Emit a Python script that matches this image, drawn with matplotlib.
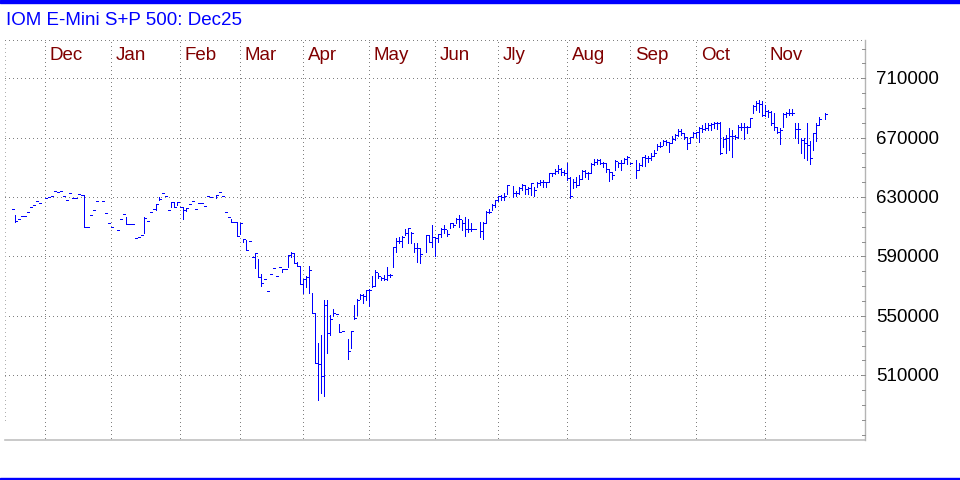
import numpy as np
import pandas as pd
import matplotlib
matplotlib.use("Agg")
import matplotlib.pyplot as plt
from matplotlib.patches import Rectangle

plt.rcParams['font.family'] = ['Liberation Sans', 'DejaVu Sans']

title = "IOM E-Mini S+P 500: Dec25"
# one slot per weekday, holidays left empty (None)
dates = pd.bdate_range("2024-11-14", "2025-11-28")
month_names = ["Jan", "Feb", "Mar", "Apr", "May", "Jun",
               "Jly", "Aug", "Sep", "Oct", "Nov", "Dec"]
yticks = [510000, 550000, 590000, 630000, 670000, 710000]

# prices in index points (chart shows them x100)
high = [
    6218, 6180, 6150, 6173, 6173, 6202, 6231, 6247, 6276, 6258,
    None, 6292, 6298, 6307, 6339, 6332, 6339, 6307, 6280, 6325,
    6292, 6292, 6321, 6314, 6314, 6101, 6179, 6213, 6271, None,
    6271, 6191, 6123, 6096, None, 6076, 6150, 6184, 6164, 6119,
    6119, 6022, 6031, 6043, 6164, 6139, 6197, 6220, 6251, 6303,
    6325, 6307, 6213, 6265, 6265, 6265, 6231, 6231, 6229, 6251,
    6274, 6218, 6258, 6258, 6240, 6307, 6298, None, 6312, 6334,
    6307, 6197, 6164, 6152, 6130, 6130, 6123, 6016, 6011, 6002,
    5897, 5921, 5881, 5782, 5746, 5668, 5782, 5825, 5769, 5827,
    5814, 5814, 5910, 5928, 5926, 5865, 5836, 5746, 5769, 5836,
    5656, 5517, 5315, 5371, 5607, 5607, 5506, 5546, 5511, 5445,
    5398, None, 5342, 5401, 5573, 5614, 5645, 5647, 5674, 5679,
    5769, 5809, 5787, 5764, 5776, 5827, 5782, 5962, 6022, 6029,
    6038, 6083, 6090, 6067, 5989, 5989, 5955, None, 6045, 6045,
    6112, 6034, 6052, 6090, 6112, 6079, 6128, 6128, 6157, 6180,
    6146, 6164, 6150, 6123, 6083, None, 6135, 6135, 6209, 6218,
    6256, 6283, 6310, 6314, 6325, 6382, None, 6375, 6342, 6370,
    6388, 6382, 6370, 6395, 6368, 6404, 6415, 6415, 6404, 6465,
    6465, 6487, 6516, 6494, 6483, 6527, 6433, 6420, 6433, 6449,
    6483, 6483, 6471, 6527, 6554, 6554, 6554, 6539, 6532, 6487,
    6471, 6550, 6539, 6550, 6561, 6577, 6532, None, 6550, 6532,
    6570, 6586, 6578, 6600, 6617, 6656, 6670, 6685, 6682, 6673,
    6712, 6727, 6756, 6756, 6729, 6702, 6702, 6741, 6741, 6774,
    6786, 6797, 6797, 6801, 6808, 6808, 6808, 6702, 6718, 6763,
    6752, 6718, 6786, 6797, 6797, 6779, 6830, 6920, 6947, 6954,
    6949, 6920, 6887, 6882, 6864, 6770, 6763, 6864, 6875, 6891,
    6891, 6797, 6797, 6700, 6700, 6797, 6675, 6732, 6797, 6842,
    None, 6864,
]
low = [
    6218, 6135, 6150, 6173, 6173, 6202, 6231, 6247, 6276, 6258,
    None, 6292, 6298, 6307, 6339, 6332, 6339, 6307, 6280, 6325,
    6292, 6292, 6321, 6314, 6101, 6101, 6179, 6213, 6271, None,
    6271, 6191, 6123, 6096, None, 6076, 6150, 6184, 6119, 6119,
    6119, 6022, 6031, 6043, 6056, 6139, 6197, 6220, 6213, 6280,
    6325, 6307, 6213, 6231, 6231, 6247, 6231, 6150, 6209, 6251,
    6274, 6218, 6258, 6258, 6240, 6307, 6298, None, 6294, 6334,
    6307, 6197, 6164, 6130, 6130, 6038, 6049, 6000, 5944, 6002,
    5897, 5820, 5760, 5701, 5746, 5668, 5782, 5825, 5769, 5827,
    5798, 5814, 5832, 5899, 5854, 5836, 5715, 5656, 5692, 5656,
    5517, 5181, 4934, 4979, 4961, 5248, 5371, 5499, 5511, 5389,
    5398, None, 5212, 5286, 5479, 5506, 5612, 5589, 5607, 5567,
    5697, 5701, 5753, 5742, 5742, 5742, 5764, 5827, 5933, 5993,
    5966, 6045, 5993, 5989, 5933, 5865, 5859, None, 5933, 6000,
    5966, 5903, 6000, 6029, 6061, 6038, 6090, 6097, 6123, 6101,
    6079, 6038, 6067, 6074, 6083, None, 6029, 6016, 6128, 6191,
    6214, 6234, 6275, 6281, 6282, 6318, None, 6303, 6310, 6318,
    6350, 6321, 6321, 6314, 6306, 6365, 6382, 6370, 6370, 6404,
    6442, 6456, 6460, 6449, 6449, 6415, 6292, 6359, 6370, 6382,
    6420, 6438, 6420, 6460, 6516, 6523, 6523, 6505, 6471, 6411,
    6420, 6483, 6505, 6483, 6527, 6523, 6523, None, 6426, 6483,
    6507, 6512, 6535, 6547, 6576, 6615, 6637, 6651, 6654, 6606,
    6667, 6682, 6710, 6718, 6689, 6622, 6667, 6702, 6702, 6673,
    6741, 6752, 6752, 6752, 6763, 6756, 6590, 6640, 6595, 6617,
    6568, 6689, 6696, 6752, 6689, 6734, 6774, 6864, 6887, 6875,
    6846, 6846, 6842, 6786, 6752, 6729, 6658, 6774, 6842, 6853,
    6853, 6696, 6662, 6595, 6561, 6550, 6523, 6617, 6680, 6785,
    None, 6824,
]
close = [
    6218, 6139, 6150, 6173, 6173, 6202, 6231, 6247, 6276, 6258,
    None, 6292, 6298, 6307, 6339, 6332, 6339, 6307, 6280, 6325,
    6292, 6292, 6321, 6314, 6101, 6101, 6179, 6213, 6271, None,
    6271, 6191, 6123, 6096, None, 6076, 6150, 6184, 6119, 6119,
    6119, 6022, 6031, 6043, 6157, 6139, 6197, 6220, 6251, 6285,
    6325, 6307, 6213, 6265, 6231, 6265, 6231, 6213, 6229, 6251,
    6274, 6218, 6258, 6258, 6240, 6307, 6298, None, 6312, 6334,
    6307, 6197, 6164, 6130, 6130, 6038, 6123, 6016, 5944, 6002,
    5897, 5921, 5760, 5719, 5746, 5668, 5782, 5825, 5769, 5827,
    5814, 5814, 5910, 5926, 5858, 5836, 5715, 5746, 5764, 5809,
    5517, 5185, 5176, 5098, 5573, 5383, 5479, 5522, 5511, 5389,
    5398, None, 5264, 5398, 5484, 5607, 5641, 5634, 5674, 5674,
    5701, 5798, 5769, 5753, 5751, 5776, 5776, 5962, 6007, 6007,
    6034, 6060, 6090, 6061, 5960, 5960, 5917, None, 6045, 6000,
    6029, 6022, 6052, 6083, 6083, 6052, 6123, 6112, 6150, 6150,
    6123, 6083, 6083, 6083, 6083, None, 6074, 6128, 6202, 6202,
    6244, 6278, 6305, 6300, 6310, 6382, None, 6325, 6328, 6362,
    6382, 6352, 6359, 6393, 6347, 6397, 6404, 6404, 6404, 6460,
    6460, 6478, 6487, 6471, 6460, 6426, 6307, 6404, 6382, 6420,
    6478, 6460, 6460, 6523, 6539, 6550, 6532, 6527, 6487, 6471,
    6449, 6545, 6527, 6532, 6554, 6572, 6527, None, 6483, 6516,
    6568, 6561, 6561, 6577, 6600, 6647, 6647, 6680, 6670, 6662,
    6689, 6718, 6747, 6729, 6702, 6662, 6702, 6734, 6741, 6763,
    6756, 6763, 6786, 6792, 6797, 6797, 6595, 6689, 6696, 6711,
    6711, 6707, 6774, 6772, 6770, 6774, 6830, 6913, 6931, 6927,
    6855, 6882, 6875, 6801, 6774, 6741, 6752, 6860, 6864, 6869,
    6869, 6756, 6756, 6684, 6667, 6650, 6560, 6729, 6785, 6824,
    None, 6860,
]

hi = np.array(high, dtype=float) * 100
lo = np.array(low, dtype=float) * 100
cl = np.array(close, dtype=float) * 100
x = np.arange(len(dates))
ok = ~np.isnan(hi)

BLUE = "#0000ff"
GRID = "#808080"
DOTS = (0, (1, 3))

fig = plt.figure(figsize=(9.6, 4.8), dpi=100)
fig.patch.set_facecolor("white")
ax = fig.add_axes([5 / 960, 40 / 480, 860 / 960, 400 / 480])
x0, x1 = -2.43, 284.23
y0, y1 = 466430, 735790
ax.set_xlim(x0, x1)
ax.set_ylim(y0, y1)
for sp in ax.spines.values():
    sp.set_visible(False)
ax.set_xticks([])
ax.set_yticks([])

# grid
for v in yticks:
    ax.plot([x0, x1 - 1], [v, v], color=GRID, lw=0.72, ls=DOTS, antialiased=False)
ax.plot([x0, x1], [y1, y1], color=GRID, lw=0.72, ls=DOTS, clip_on=False, antialiased=False)
ax.axvline(x0 + 0.05, ymin=0.05, ymax=1, color="#b0b0b0", lw=0.72, ls=DOTS, antialiased=False)

# month separators + labels
for i in range(1, len(dates)):
    if dates[i].month != dates[i - 1].month:
        s = i - 1
        ax.axvline(s, ymin=0.005, ymax=1, color=GRID, lw=0.72, ls=DOTS, antialiased=False)
        ax.text(s + 1.5, 0.96, month_names[dates[i].month - 1], color="#800000",
                fontsize=13.5, va="center", ha="left",
                transform=ax.get_xaxis_transform())

# axis frame: bottom and right
ax.plot([x0, x1], [y0, y0], color="#c0c0c0", lw=1.2, clip_on=False)
ax.plot([x1, x1], [y0, y1], color="#b4b4b4", lw=1.0, clip_on=False)
for v in range(470000, 740000, 10000):
    ax.plot([x1 - 1, x1], [v, v], color="#909090", lw=0.72, clip_on=False, antialiased=False)
for v in yticks:
    ax.text(x1 + 3.7, v - 1000, str(v), fontsize=13.5, va="center", ha="left", clip_on=False)

# HLC bars
ax.vlines(x[ok], lo[ok], hi[ok], color=BLUE, lw=0.72, antialiased=False)
ax.hlines(cl[ok], x[ok], x[ok] + 0.7, color=BLUE, lw=0.72, antialiased=False)

# header / footer
fig.text(6 / 960, 1 - 20.5 / 480, title, color=BLUE, fontsize=13.5, va="center", ha="left")
fig.add_artist(Rectangle((0, 1 - 3 / 480), 1, 3 / 480, color=BLUE, transform=fig.transFigure))
fig.add_artist(Rectangle((0, 0), 1, 2.5 / 480, color=BLUE, transform=fig.transFigure))

fig.savefig("out.png", dpi=100)
